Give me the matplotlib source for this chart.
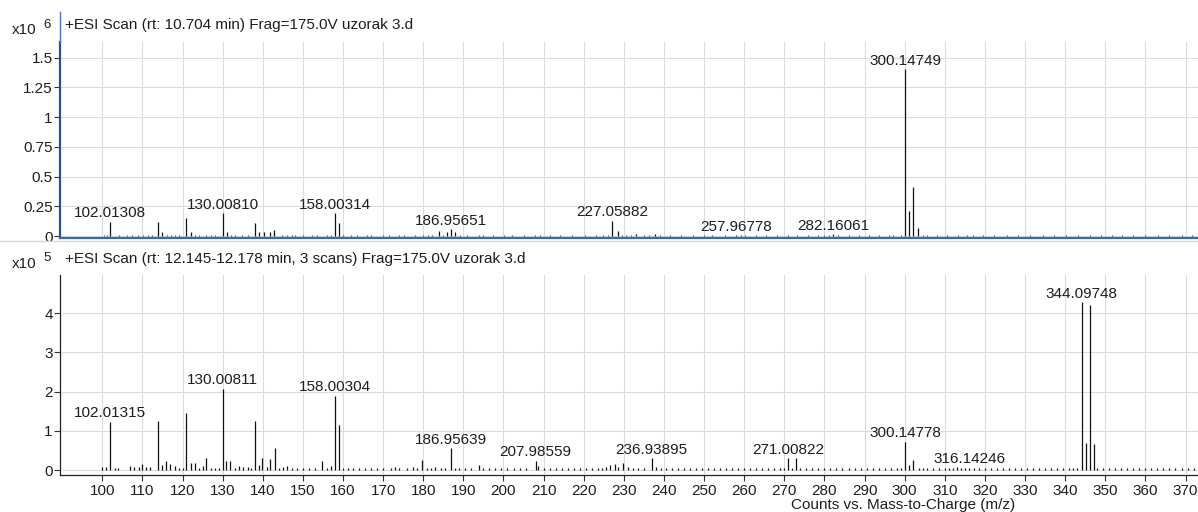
import matplotlib
matplotlib.use("Agg")
import matplotlib.pyplot as plt
from matplotlib.lines import Line2D
from matplotlib.ticker import FuncFormatter

plt.rcParams['font.family'] = ['Liberation Sans', 'DejaVu Sans']

# ---------------- data ----------------
# Top spectrum: +ESI Scan (rt: 10.704 min), intensities in x10^6 counts
top_peak_mz = [102.01308, 113.8, 115.0, 120.9, 122.0, 130.00810, 131.0, 138.0, 139.0,
               140.3, 141.8, 142.8, 158.00314, 158.9, 183.9, 185.9, 186.95651, 188.0,
               227.05882, 228.5, 233.0, 237.8, 257.96778, 282.16061, 300.14749,
               301.15, 302.14, 303.3]
top_peak_int = [0.120, 0.120, 0.030, 0.149, 0.030, 0.190, 0.030, 0.112, 0.030,
                0.030, 0.035, 0.050, 0.190, 0.112, 0.040, 0.030, 0.056, 0.035,
                0.129, 0.040, 0.020, 0.020, 0.008, 0.017, 1.402,
                0.213, 0.410, 0.070]
top_noise_mz = [100.5, 101.2, 104.2, 106.1, 107.5, 109.0, 110.1, 111.3, 112.5, 116.1,
                117.2, 118.0, 119.1, 123.1, 124.2, 125.9, 127.0, 128.1, 132.0, 133.1,
                134.9, 136.2, 144.9, 146.0, 147.2, 148.1, 150.0, 151.1, 152.2, 153.5,
                154.9, 156.0, 157.0, 160.1, 161.2, 162.0, 163.5, 164.8, 166.0, 167.1,
                168.5, 170.0, 171.4, 172.9, 174.0, 175.1, 176.5, 178.0, 179.2, 180.0,
                181.1, 182.1, 184.9, 189.2, 190.9, 192.1, 193.9, 195.0, 196.0, 197.5,
                199.0, 200.2, 202.1, 203.4, 205.0, 206.1, 207.9, 209.0, 210.1, 211.5,
                213.0, 214.2, 215.9, 217.1, 219.0, 220.3, 222.0, 223.1, 224.9, 226.0,
                229.5, 230.5, 231.8, 235.0, 236.2, 239.0, 240.2, 241.5, 243.1, 244.3,
                246.0, 247.2, 249.0, 250.1, 252.0, 253.3, 255.1, 256.2, 259.1, 260.2,
                261.5, 263.0, 264.1, 265.5, 267.1, 268.2, 270.9, 272.0, 273.1, 274.5,
                276.0, 277.1, 278.5, 280.0, 281.1, 283.4, 285.0, 286.1, 287.3, 288.5,
                289.8, 291.0, 292.2, 293.5, 294.8, 296.0, 297.1, 298.3, 299.2, 304.5,
                305.6, 306.8, 308.0, 309.2, 310.5, 312.0, 313.2, 314.4, 315.6, 317.0,
                318.2, 319.5, 321.0, 322.3, 324.1, 325.5, 327.0, 328.2, 330.0, 331.3,
                333.1, 334.4, 336.0, 337.2, 339.0, 340.3, 342.1, 343.3, 344.6, 346.1,
                347.4, 349.0, 350.3, 351.6, 353.0, 354.1, 355.5, 357.0, 358.3, 360.0,
                361.2, 363.1, 364.4, 366.0, 367.3, 369.0, 370.2, 371.5, 372.8]
top_noise_int = [0.006, 0.008, 0.007, 0.005, 0.009, 0.006, 0.010, 0.007, 0.005, 0.008,
                 0.006, 0.009, 0.005, 0.007, 0.006, 0.010, 0.005, 0.008, 0.006, 0.007,
                 0.005, 0.009, 0.006, 0.005, 0.007, 0.005, 0.006, 0.004, 0.005, 0.006,
                 0.004, 0.006, 0.007, 0.005, 0.004, 0.006, 0.005, 0.004, 0.006, 0.005,
                 0.004, 0.005, 0.006, 0.004, 0.005, 0.006, 0.004, 0.005, 0.004, 0.012,
                 0.006, 0.008, 0.007, 0.006, 0.005, 0.004, 0.010, 0.005, 0.004, 0.005,
                 0.004, 0.006, 0.005, 0.004, 0.005, 0.004, 0.008, 0.005, 0.004, 0.005,
                 0.004, 0.005, 0.004, 0.005, 0.004, 0.005, 0.004, 0.006, 0.005, 0.008,
                 0.010, 0.006, 0.007, 0.005, 0.006, 0.005, 0.004, 0.005, 0.004, 0.005,
                 0.004, 0.005, 0.004, 0.005, 0.006, 0.004, 0.005, 0.004, 0.006, 0.005,
                 0.004, 0.005, 0.004, 0.005, 0.004, 0.005, 0.006, 0.004, 0.005, 0.004,
                 0.005, 0.004, 0.005, 0.006, 0.007, 0.005, 0.004, 0.005, 0.004, 0.006,
                 0.004, 0.005, 0.004, 0.005, 0.004, 0.005, 0.006, 0.004, 0.008, 0.007,
                 0.005, 0.004, 0.005, 0.004, 0.005, 0.004, 0.005, 0.004, 0.006, 0.005,
                 0.004, 0.005, 0.004, 0.005, 0.004, 0.005, 0.004, 0.005, 0.004, 0.005,
                 0.004, 0.005, 0.004, 0.005, 0.004, 0.005, 0.004, 0.005, 0.004, 0.005,
                 0.004, 0.005, 0.004, 0.005, 0.004, 0.005, 0.004, 0.005, 0.004, 0.005,
                 0.004, 0.005, 0.004, 0.005, 0.004, 0.005, 0.004, 0.005, 0.004]
top_label_mz = [102.01308, 130.00810, 158.00314, 186.95651, 227.05882, 257.96778,
                282.16061, 300.14749]
top_label_text = ["102.01308", "130.00810", "158.00314", "186.95651", "227.05882",
                  "257.96778", "282.16061", "300.14749"]
top_label_int = [0.120, 0.190, 0.190, 0.056, 0.129, 0.008, 0.017, 1.402]

# Bottom spectrum: +ESI Scan (rt: 12.145-12.178 min, 3 scans), intensities in x10^5 counts
bot_peak_mz = [100.0, 101.0, 102.01315, 103.2, 104.0, 106.9, 108.0, 109.2, 110.0, 111.0,
               112.0, 113.8, 114.9, 115.8, 116.9, 118.0, 119.2, 120.0, 120.9, 122.1,
               123.1, 124.0, 125.0, 125.8, 127.0, 128.0, 129.0, 130.00811, 130.9, 131.8,
               133.0, 134.0, 135.0, 136.2, 137.0, 138.0, 139.0, 139.8, 141.0, 141.8,
               143.0, 144.0, 145.0, 146.0, 147.2, 148.5, 150.0, 151.5, 153.0, 154.8,
               156.0, 156.9, 158.00304, 158.9, 160.0, 161.2, 162.5, 164.0, 165.5, 167.0,
               168.5, 170.0, 172.0, 173.0, 174.0, 176.0, 177.5, 178.5, 179.8, 181.0,
               182.0, 183.0, 184.5, 185.5, 186.95639, 188.0, 189.0, 190.5, 192.0, 193.9,
               195.0, 196.5, 198.0, 199.5, 201.0, 202.5, 204.0, 205.5, 207.98559, 208.7,
               210.0, 211.5, 213.0, 214.5, 216.0, 217.5, 219.0, 220.5, 222.0, 223.5,
               224.5, 225.5, 226.5, 227.7, 228.5, 229.7, 231.0, 232.2, 233.5, 235.0,
               236.93895, 238.0, 239.2, 240.5, 242.0, 243.5, 245.0, 246.5, 248.0, 249.5,
               251.0, 252.5, 254.0, 255.5, 257.0, 258.5, 260.0, 261.5, 263.0, 264.5,
               266.0, 267.5, 269.0, 270.0, 271.00822, 272.0, 272.9, 274.0, 275.5, 277.0,
               278.5, 280.0, 281.5, 283.0, 284.5, 286.0, 287.5, 289.0, 290.5, 292.0,
               293.5, 295.0, 296.5, 298.0, 299.2, 300.14778, 301.2, 302.1, 303.5, 304.5,
               305.5, 307.0, 308.5, 310.0, 311.0, 312.0, 313.0, 314.0, 315.0, 316.14246,
               317.2, 318.5, 320.0, 321.5, 323.0, 324.5, 326.0, 327.5, 329.0, 330.5,
               332.0, 333.5, 335.0, 336.5, 338.0, 339.5, 341.0, 342.0, 343.0, 344.09748,
               345.1, 346.09, 347.1, 348.0, 349.5, 351.0, 352.5, 354.0, 355.5, 357.0,
               358.5, 360.0, 361.5, 363.0, 364.5, 366.0, 367.5, 369.0, 370.5, 372.0]
bot_peak_int = [0.08, 0.07, 1.23, 0.05, 0.05, 0.10, 0.07, 0.07, 0.15, 0.08,
                0.08, 1.26, 0.12, 0.23, 0.16, 0.10, 0.06, 0.06, 1.45, 0.17,
                0.17, 0.05, 0.10, 0.30, 0.05, 0.05, 0.05, 2.07, 0.23, 0.22,
                0.05, 0.10, 0.08, 0.08, 0.06, 1.26, 0.12, 0.30, 0.08, 0.28,
                0.57, 0.05, 0.08, 0.10, 0.06, 0.06, 0.05, 0.05, 0.05, 0.22,
                0.05, 0.10, 1.90, 1.14, 0.05, 0.04, 0.05, 0.04, 0.04, 0.05,
                0.04, 0.04, 0.06, 0.08, 0.04, 0.06, 0.08, 0.05, 0.26, 0.05,
                0.05, 0.08, 0.05, 0.06, 0.55, 0.05, 0.06, 0.05, 0.05, 0.13,
                0.06, 0.05, 0.04, 0.05, 0.04, 0.05, 0.04, 0.05, 0.24, 0.10,
                0.05, 0.04, 0.05, 0.04, 0.05, 0.04, 0.05, 0.04, 0.05, 0.06,
                0.05, 0.08, 0.12, 0.16, 0.07, 0.19, 0.07, 0.05, 0.06, 0.05,
                0.30, 0.08, 0.05, 0.04, 0.05, 0.04, 0.05, 0.04, 0.05, 0.04,
                0.05, 0.04, 0.05, 0.04, 0.05, 0.04, 0.05, 0.04, 0.05, 0.04,
                0.05, 0.04, 0.05, 0.06, 0.30, 0.06, 0.30, 0.06, 0.04, 0.05,
                0.04, 0.05, 0.04, 0.05, 0.04, 0.05, 0.04, 0.05, 0.04, 0.05,
                0.04, 0.05, 0.04, 0.05, 0.05, 0.72, 0.12, 0.26, 0.06, 0.05,
                0.04, 0.05, 0.04, 0.05, 0.06, 0.05, 0.07, 0.06, 0.05, 0.06,
                0.05, 0.04, 0.05, 0.04, 0.05, 0.04, 0.05, 0.04, 0.05, 0.04,
                0.05, 0.04, 0.05, 0.04, 0.05, 0.04, 0.05, 0.05, 0.06, 4.28,
                0.70, 4.21, 0.66, 0.05, 0.04, 0.05, 0.04, 0.05, 0.04, 0.05,
                0.04, 0.05, 0.04, 0.05, 0.04, 0.05, 0.04, 0.05, 0.04, 0.05]
bot_label_mz = [102.01315, 130.00811, 158.00304, 186.95639, 207.98559, 236.93895,
                271.00822, 300.14778, 316.14246, 344.09748]
bot_label_text = ["102.01315", "130.00811", "158.00304", "186.95639", "207.98559",
                  "236.93895", "271.00822", "300.14778", "316.14246", "344.09748"]
bot_label_int = [1.23, 2.07, 1.90, 0.55, 0.24, 0.30, 0.30, 0.72, 0.06, 4.28]

top_yticks = [0, 0.25, 0.5, 0.75, 1, 1.25, 1.5]
bot_yticks = [0, 1, 2, 3, 4]
x_ticks = list(range(100, 371, 10))

top_title = "+ESI Scan (rt: 10.704 min) Frag=175.0V uzorak 3.d"
bot_title = "+ESI Scan (rt: 12.145-12.178 min, 3 scans) Frag=175.0V uzorak 3.d"
x_label = "Counts vs. Mass-to-Charge (m/z)"

# ---------------- layout ----------------
W, H = 1198, 512
fig = plt.figure(figsize=(W / 100, H / 100), dpi=100)
fig.patch.set_facecolor('white')

def fx(px):
    return px / W

def fy(py):
    return 1 - py / H

XMIN, XMAX = 89.46, 373.11
FS = 11
TXT = '#1e1e1e'
BLUE = '#3f68a8'
GRID = '#dcdcdc'

ax1 = fig.add_axes([fx(60), fy(238.3), fx(W - 60), (238.3 - 42) / H])
ax2 = fig.add_axes([fx(60), fy(475.3), fx(W - 60), (475.3 - 275) / H])

fmt = FuncFormatter(lambda v, p: ('%g' % v))

for ax in (ax1, ax2):
    ax.set_xlim(XMIN, XMAX)
    ax.set_xticks(x_ticks)
    ax.grid(True, color=GRID, lw=0.8)
    ax.set_axisbelow(True)
    ax.spines['top'].set_visible(False)
    ax.spines['right'].set_visible(False)
    ax.yaxis.set_major_formatter(fmt)
    ax.tick_params(axis='y', direction='out', length=4.5, width=0.8, pad=0.8,
                   labelsize=FS, labelcolor=TXT, color='#333333')

ax1.set_ylim(-0.0193, 1.632)
ax1.set_yticks(top_yticks)
ax1.tick_params(axis='x', length=0, labelbottom=False)
ax1.spines['left'].set_color('#2d4f8f')
ax1.spines['left'].set_linewidth(1.6)
ax1.spines['bottom'].set_color(BLUE)
ax1.spines['bottom'].set_linewidth(1.6)

ax2.set_ylim(-0.135, 4.974)
ax2.set_yticks(bot_yticks)
ax2.tick_params(axis='x', direction='out', length=4, width=0.8, pad=2.2,
                labelsize=FS, labelcolor=TXT, color='#333333')
for s in ('left', 'bottom'):
    ax2.spines[s].set_color('#222222')
    ax2.spines[s].set_linewidth(0.9)

# spectra
ax1.vlines(top_noise_mz, 0, top_noise_int, colors='#333333', lw=0.8)
ax1.vlines(top_peak_mz, 0, top_peak_int, colors='#111111', lw=0.9)
ax2.vlines(bot_peak_mz, 0, bot_peak_int, colors='#111111', lw=0.9)

for m, t, v in zip(top_label_mz, top_label_text, top_label_int):
    ax1.annotate(t, (m, v), xytext=(0, 3.2), textcoords='offset points',
                 ha='center', va='baseline', fontsize=FS, color=TXT)
for m, t, v in zip(bot_label_mz, bot_label_text, bot_label_int):
    ax2.annotate(t, (m, v), xytext=(0, 3.2), textcoords='offset points',
                 ha='center', va='baseline', fontsize=FS, color=TXT)

# panel headers
fig.text(fx(65), fy(25), top_title, ha='left', va='center', fontsize=FS, color=TXT)
fig.text(fx(65), fy(259), bot_title, ha='left', va='center', fontsize=FS, color=TXT)
fig.text(fx(12), fy(29.5), "x10", ha='left', va='center', fontsize=FS, color=TXT)
fig.text(fx(43), fy(25), "6", ha='left', va='center', fontsize=9.5, color=TXT)
fig.text(fx(12), fy(264), "x10", ha='left', va='center', fontsize=FS, color=TXT)
fig.text(fx(43), fy(258), "5", ha='left', va='center', fontsize=9.5, color=TXT)

# panel decorations (selected-panel blue frame)
fig.add_artist(Line2D([fx(60), fx(60)], [fy(12), fy(42)], color='#4a72b0', lw=1.0,
                      transform=fig.transFigure))
fig.add_artist(Line2D([0, 1], [fy(240.8), fy(240.8)], color='#c9d7ea', lw=1.0,
                      transform=fig.transFigure))

fig.text(fx(903), fy(505), x_label, ha='center', va='center', fontsize=FS, color=TXT)

fig.savefig('out.png', dpi=100, facecolor='white')
